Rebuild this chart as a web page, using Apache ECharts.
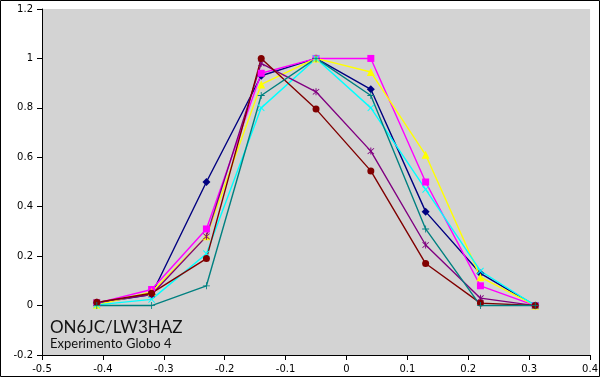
<!DOCTYPE html>
<html>
<head>
<meta charset="utf-8">
<script src="https://cdn.jsdelivr.net/npm/echarts@6/dist/echarts.min.js"></script>
<style>
html,body{margin:0;padding:0;background:#fff;}
#c{width:601px;height:382px;}
</style>
</head>
<body>
<div id="c"></div>
<script>
var xs = [-0.41, -0.32, -0.23, -0.14, -0.05, 0.04, 0.13, 0.22, 0.31];
var navy    = [0.010, 0.045, 0.50, 0.93, 1.00, 0.875, 0.38, 0.13, 0];
var magenta = [0.010, 0.065, 0.31, 0.94, 1.00, 1.00, 0.50, 0.08, 0];
var yellow  = [0.003, 0.055, 0.28, 0.895, 1.00, 0.945, 0.61, 0.115, 0];
var cyan    = [0.003, 0.025, 0.21, 0.80, 1.00, 0.80, 0.47, 0.14, 0];
var purple  = [0.013, 0.045, 0.28, 0.98, 0.865, 0.625, 0.245, 0.03, 0];
var maroon  = [0.013, 0.05, 0.19, 1.00, 0.795, 0.545, 0.17, 0.01, 0];
var teal    = [0.000, 0.000, 0.08, 0.85, 1.00, 0.85, 0.31, 0.00, 0];
var titleText = 'ON6JC/LW3HAZ';
var subtitleText = 'Experimento Globo 4';

var X_SYM = 'path://M0,1L1,0L5,4L9,0L10,1L6,5L10,9L9,10L5,6L1,10L0,9L4,5Z';
var PLUS_SYM = 'path://M4.4,0H5.6V4.4H10V5.6H5.6V10H4.4V5.6H0V4.4H4.4Z';
var STAR_SYM = 'path://M4.4,0H5.6V10H4.4Z M0.6,1.4L1.4,0.6L9.4,8.6L8.6,9.4Z M8.6,0.6L9.4,1.4L1.4,9.4L0.6,8.6Z';

function pairs(ys){ return xs.map(function(x,i){ return [x, ys[i]]; }); }
function mk(name, data, color, symbol, size){
  return {
    name: name, type: 'line', data: pairs(data),
    symbol: symbol, symbolSize: size, showSymbol: true,
    lineStyle: {color: color, width: 1.4},
    itemStyle: {color: color},
    animation: false
  };
}
function fmt(v){ var r = Math.round(v*10)/10; return r === 0 ? '0' : String(r); }

var chart = echarts.init(document.getElementById('c'));
chart.setOption({
  animation: false,
  backgroundColor: '#ffffff',
  grid: {left: 42, top: 9, right: 9, bottom: 27, show: true, backgroundColor: '#d3d3d3', borderWidth: 0},
  xAxis: {
    type: 'value', min: -0.5, max: 0.4, interval: 0.1,
    axisLine: {show: true, onZero: false, lineStyle: {color: '#000', width: 1}},
    axisTick: {show: true, length: 5, lineStyle: {color: '#000'}},
    axisLabel: {color: '#000', fontFamily: 'DejaVu Sans', fontSize: 10, margin: 9, formatter: fmt, showMaxLabel: true, showMinLabel: true},
    splitLine: {show: false}
  },
  yAxis: {
    type: 'value', min: -0.2, max: 1.2, interval: 0.2,
    axisLine: {show: true, onZero: false, lineStyle: {color: '#000', width: 1}},
    axisTick: {show: true, length: 5, lineStyle: {color: '#000'}},
    axisLabel: {color: '#000', fontFamily: 'DejaVu Sans', fontSize: 10, margin: 9, formatter: fmt},
    splitLine: {show: false}
  },
  graphic: [
    {type: 'rect', shape: {x: 0.5, y: 0.5, width: 599, height: 376}, style: {fill: 'none', stroke: '#000', lineWidth: 1}, z: 100},
    {type: 'text', left: 50, top: 319, style: {text: titleText, fontFamily: 'Lato', fontSize: 17, fill: '#111'}, z: 100},
    {type: 'text', left: 50, top: 337, style: {text: subtitleText, fontFamily: 'Lato', fontSize: 13, fill: '#111'}, z: 100}
  ],
  series: [
    mk('S1', navy, '#000080', 'diamond', 8),
    mk('S2', magenta, '#ff00ff', 'rect', 7),
    mk('S3', yellow, '#ffff00', 'triangle', 8),
    mk('S4', cyan, '#00ffff', X_SYM, 7),
    mk('S5', purple, '#800080', STAR_SYM, 7),
    mk('S6', maroon, '#800000', 'circle', 7),
    mk('S7', teal, '#008080', PLUS_SYM, 7)
  ]
});
</script>
</body>
</html>
